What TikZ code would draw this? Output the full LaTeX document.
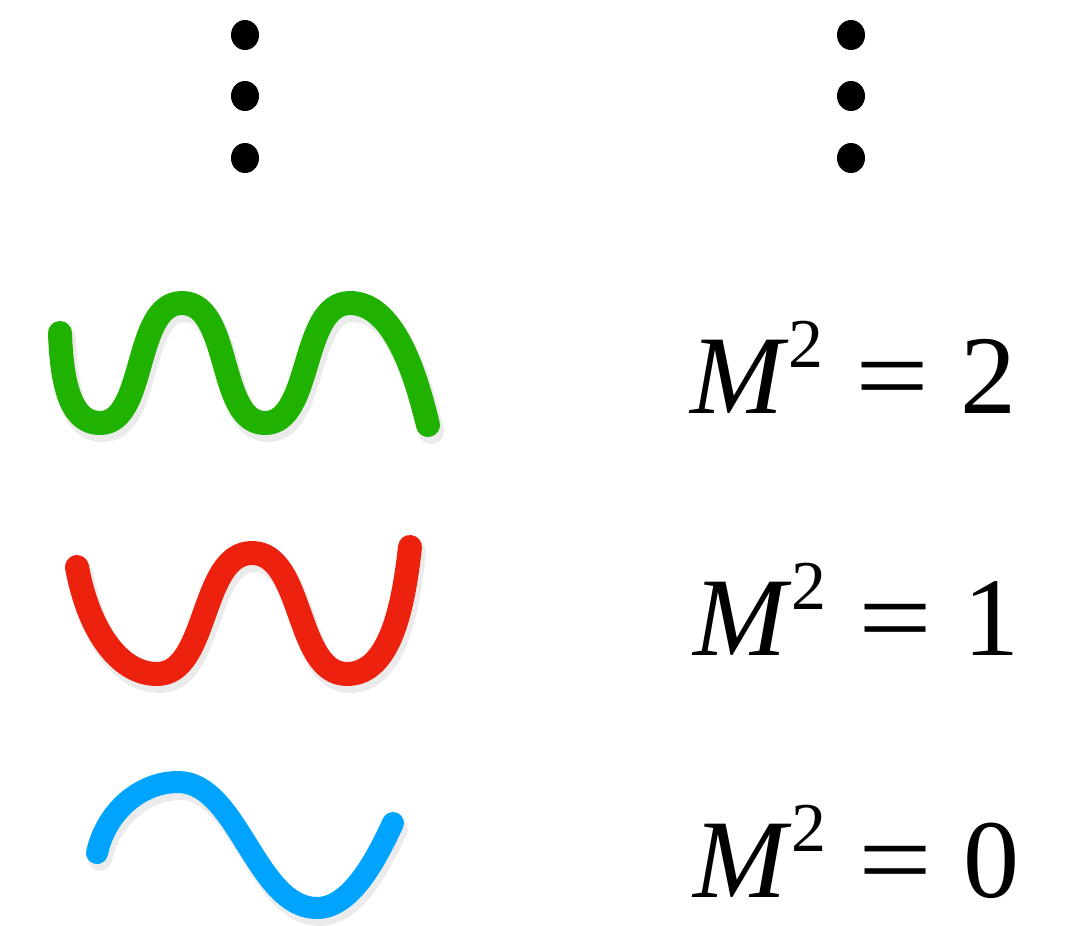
\documentclass[tikz,border=0pt]{standalone}
\usepackage{fontspec}
\usepackage{graphicx}
\setmainfont{Liberation Serif}
\definecolor{wgreen}{RGB}{32,178,0}
\definecolor{wred}{RGB}{236,34,14}
\definecolor{wblue}{RGB}{0,164,255}
\tikzset{
  wave/.style={line width=24pt, line cap=round, line join=round},
  shade/.style={line width=26pt, line cap=round, line join=round, draw=black, opacity=0.08},
  dot/.style={fill=black},
  eq/.style={anchor=base west, inner sep=0pt, font=\fontsize{112}{112}\selectfont}
}
\newcommand{\msq}[1]{\textit{M}\raisebox{0.41em}{\fontsize{70}{70}\selectfont 2}\hspace{0.28em}\scalebox{1.17}[1]{=}\hspace{0.28em}#1}
\begin{document}
\begin{tikzpicture}[x=1pt,y=-1pt]
\useasboundingbox (0,0) rectangle (1077,926);
% dots
\foreach \yy in {35,96,158}{
  \fill[dot] (245,\yy) ellipse [x radius=14, y radius=15];
  \fill[dot] (851,\yy) ellipse [x radius=14, y radius=15];
}
% green wave M^2=2
\def\greenpath{(60,333) .. controls (62,395) and (75,423) .. (100,423)
  .. controls (147,423) and (133,303) .. (182,303)
  .. controls (232,303) and (217,423) .. (265,423)
  .. controls (313,423) and (300,303) .. (350,303)
  .. controls (397,303) and (418,385) .. (428,425)}
\begin{scope}[shift={(3,6)}]
\draw[shade] \greenpath;
\end{scope}
\draw[wave, wgreen] \greenpath;
% red wave M^2=1
\def\redpath{(77,567) .. controls (88,628) and (118,674) .. (157,674)
  .. controls (209,674) and (200,553) .. (252,553)
  .. controls (304,553) and (295,674) .. (347,674)
  .. controls (392,674) and (404,600) .. (410,547)}
\begin{scope}[shift={(3,6)}]
\draw[shade] \redpath;
\end{scope}
\draw[wave, wred] \redpath;
% blue wave M^2=0
\def\bluepath{(97,853) .. controls (106,812) and (140,782) .. (178,782)
  .. controls (238,782) and (256,908) .. (317,908)
  .. controls (350,908) and (375,862) .. (393,823)}
\begin{scope}[shift={(3,6)}]
\draw[shade, line width=24pt] \bluepath;
\end{scope}
\draw[wave, wblue, line width=22pt] \bluepath;
% labels
\node[eq] (m2) at (690,413) {\msq{2}};
\node[eq] (m1) at (693,655) {\msq{1}};
\node[eq] (m0) at (693,897) {\msq{0}};
\end{tikzpicture}
\end{document}
